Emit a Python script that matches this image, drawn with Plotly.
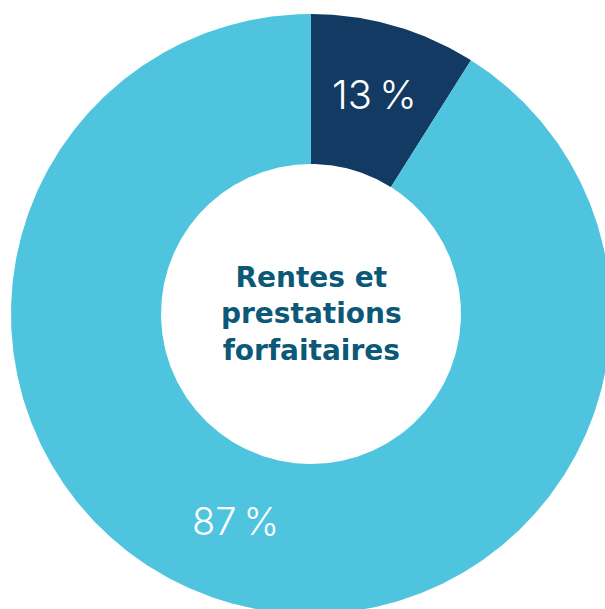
import numpy as np
import plotly.graph_objects as go

# Data (angular shares as drawn in the reference, and the printed labels)
segment_labels = ["13\u202f%", "87\u202f%"]
segment_shares = [8.95, 91.05]
segment_colors = ["#123A62", "#4EC4DF"]
center_title = "Rentes et<br>prestations<br>forfaitaires"

# Geometry (pixel-like data coordinates)
W, H = 605, 609
CX, CY = 311, 314
R_OUT, R_IN = 300, 150
label_radius = [228, 220]
label_angle_shift = [0, 4]
label_sizes = [40, 38]

total = sum(segment_shares)
fig = go.Figure()
cum = 0.0
label_pos = []
for i, (share, color) in enumerate(zip(segment_shares, segment_colors)):
    a0 = 360.0 * cum / total
    a1 = 360.0 * (cum + share) / total
    n = max(int(abs(a1 - a0) * 2), 8)
    ang = np.radians(np.linspace(a0, a1, n))
    xo = CX + R_OUT * np.sin(ang)
    yo = CY - R_OUT * np.cos(ang)
    xi = CX + R_IN * np.sin(ang[::-1])
    yi = CY - R_IN * np.cos(ang[::-1])
    xs = np.concatenate([xo, xi, xo[:1]])
    ys = np.concatenate([yo, yi, yo[:1]])
    fig.add_trace(go.Scatter(x=xs, y=ys, fill="toself", fillcolor=color,
                             mode="lines", line=dict(width=0, color=color),
                             hoverinfo="skip", showlegend=False))
    mid = np.radians((a0 + a1) / 2 + label_angle_shift[i])
    r = label_radius[i]
    label_pos.append((CX + r * np.sin(mid), CY - r * np.cos(mid)))
    cum += share

for (lx, ly), txt, sz in zip(label_pos, segment_labels, label_sizes):
    fig.add_annotation(x=lx, y=ly, text=txt, showarrow=False,
                       font=dict(family="Inter", size=sz, color="white", weight=300),
                       xanchor="center", yanchor="middle")

fig.add_annotation(x=CX, y=CY, text=center_title, showarrow=False,
                   font=dict(family="DejaVu Sans", size=28, color="#0B5878", weight=700),
                   xanchor="center", yanchor="middle", align="center")

fig.update_xaxes(range=[0, W], visible=False, fixedrange=True)
fig.update_yaxes(range=[H, 0], visible=False, fixedrange=True)
fig.update_layout(width=W, height=H, margin=dict(l=0, r=0, t=0, b=0),
                  paper_bgcolor="white", plot_bgcolor="white", showlegend=False)

fig.write_html("out.html",
               config={"displayModeBar": False},
               post_script="document.body.style.margin='0';"
                           "document.body.style.overflow='hidden';")
